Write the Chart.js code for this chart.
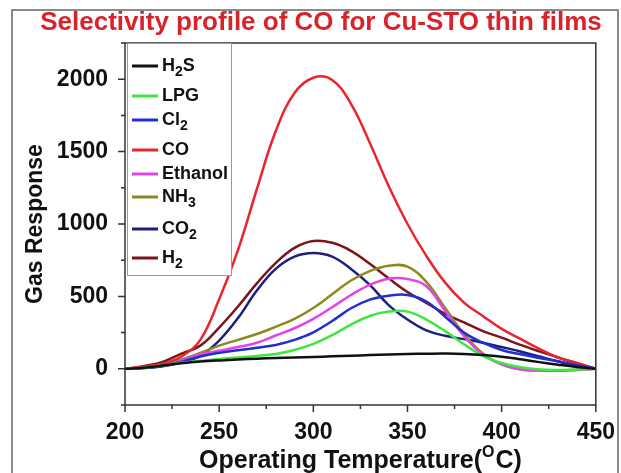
<!DOCTYPE html>
<html>
<head>
<meta charset="utf-8">
<script src="https://cdn.jsdelivr.net/npm/chart.js@4.4.1/dist/chart.umd.min.js"></script>
<style>
  html, body { margin: 0; padding: 0; background: #fff; }
  canvas { display: block; }
</style>
</head>
<body>
<canvas id="myChart" width="621" height="473"></canvas>
<script>
// data
const temps = [200, 210, 220, 230, 240, 250, 260, 270, 280, 290, 300, 310, 320, 330, 340, 350, 360, 370, 380, 390, 400, 410, 420, 430, 440, 450];

const h2s     = [0, 8, 22, 38, 50, 58, 64, 70, 74, 78, 82, 86, 90, 95, 99, 102, 104, 105, 103, 96, 84, 66, 46, 28, 12, 0];
const lpg     = [0, 8, 22, 42, 55, 68, 78, 88, 102, 130, 172, 232, 305, 365, 395, 395, 340, 260, 170, 90, 40, 10, -5, -8, -5, 0];
const cl2     = [0, 6, 20, 48, 85, 110, 128, 145, 165, 200, 252, 330, 418, 478, 505, 510, 465, 360, 250, 180, 130, 100, 75, 52, 25, 0];
const co      = [0, 12, 35, 85, 200, 480, 820, 1240, 1640, 1905, 2010, 1995, 1830, 1560, 1262, 1000, 780, 595, 457, 365, 276, 207, 138, 78, 40, 0];
const ethanol = [0, 10, 28, 58, 100, 125, 150, 180, 230, 280, 345, 425, 510, 580, 622, 620, 570, 400, 225, 100, 30, -5, -12, -14, -8, 0];
const nh3     = [0, 12, 32, 65, 110, 160, 200, 240, 290, 345, 420, 515, 610, 675, 712, 705, 600, 420, 240, 105, 30, -3, -12, -12, -6, 0];
const co2     = [0, 5, 18, 45, 90, 195, 350, 540, 690, 775, 800, 775, 690, 580, 440, 340, 265, 228, 205, 180, 150, 120, 85, 50, 20, 0];
const h2      = [0, 18, 48, 105, 160, 285, 430, 590, 730, 835, 882, 870, 815, 725, 625, 530, 455, 380, 320, 260, 215, 165, 120, 78, 38, 0];

const seriesNames = ['H2S', 'LPG', 'Cl2', 'CO', 'Ethanol', 'NH3', 'CO2', 'H2'];
const seriesData = [h2s, lpg, cl2, co, ethanol, nh3, co2, h2];
const seriesColors = ['#111111', '#3ee63e', '#1f2fd0', '#e8262c', '#e444e4', '#8c8a1e', '#1b1f80', '#7a1518'];

const yTicks = { min: -250, max: 2250, step: 250 };
const xTicks = { min: 200, max: 450, step: 25 };

const FONT = '"Liberation Sans", Arial, sans-serif';
Chart.defaults.font.family = FONT;

// text with digits drawn as subscripts (H2S, CO2 ...)
function drawSubText(ctx, text, x, y, size) {
    for (const ch of text) {
        if (/[0-9]/.test(ch)) {
            ctx.font = 'bold ' + Math.round(size * 0.75) + 'px ' + FONT;
            ctx.fillText(ch, x, y + size * 0.32);
        } else {
            ctx.font = 'bold ' + size + 'px ' + FONT;
            ctx.fillText(ch, x, y);
        }
        x += ctx.measureText(ch).width;
    }
}

const decor = {
    id: 'decor',
    beforeDraw(chart) {
        const ctx = chart.ctx;
        ctx.save();
        ctx.fillStyle = '#fff';
        ctx.fillRect(0, 0, chart.width, chart.height);
        // outer frame
        ctx.strokeStyle = '#666';
        ctx.lineWidth = 1.5;
        ctx.strokeRect(12, 10, 606, 480);
        ctx.restore();
    },
    afterDraw(chart) {
        const ctx = chart.ctx;
        const a = chart.chartArea;
        const xs = chart.scales.x, ys = chart.scales.y;
        ctx.save();

        // plot box
        ctx.strokeStyle = '#333';
        ctx.lineWidth = 1.5;
        ctx.strokeRect(a.left, a.top, a.right - a.left, a.bottom - a.top);

        // ticks
        ctx.beginPath();
        ys.ticks.forEach(t => {
            const p = ys.getPixelForValue(t.value);
            const len = (t.value % 500 === 0) ? 7 : 4;
            ctx.moveTo(a.left - len, p);
            ctx.lineTo(a.left, p);
        });
        xs.ticks.forEach(t => {
            const p = xs.getPixelForValue(t.value);
            const len = (t.value % 50 === 0) ? 7 : 4;
            ctx.moveTo(p, a.bottom);
            ctx.lineTo(p, a.bottom + len);
        });
        ctx.stroke();

        // title
        ctx.fillStyle = '#d9232b';
        ctx.font = 'bold 26px ' + FONT;
        ctx.textAlign = 'center';
        ctx.textBaseline = 'middle';
        ctx.fillText('Selectivity profile of CO for Cu-STO thin films', 321, 23);

        // y axis title
        ctx.fillStyle = '#111';
        ctx.font = 'bold 23px ' + FONT;
        ctx.save();
        ctx.translate(36, (a.top + a.bottom) / 2);
        ctx.rotate(-Math.PI / 2);
        ctx.fillText('Gas Response', 0, 0);
        ctx.restore();

        // x axis title with superscript O
        const p1 = 'Operating Temperature(', sup = 'O', p2 = 'C)';
        ctx.textAlign = 'left';
        ctx.font = 'bold 25px ' + FONT;
        const w1 = ctx.measureText(p1).width, w3 = ctx.measureText(p2).width;
        ctx.font = 'bold 16px ' + FONT;
        const w2 = ctx.measureText(sup).width + 1;
        let x0 = (a.left + a.right) / 2 - (w1 + w2 + w3) / 2;
        const ty = 461;
        ctx.font = 'bold 25px ' + FONT;
        ctx.fillText(p1, x0, ty);
        ctx.font = 'bold 16px ' + FONT;
        ctx.fillText(sup, x0 + w1, ty - 8);
        ctx.font = 'bold 25px ' + FONT;
        ctx.fillText(p2, x0 + w1 + w2, ty);

        // legend
        const rows = [66, 96, 120, 150, 174, 197, 229, 258];
        ctx.fillStyle = '#fff';
        ctx.fillRect(127, 43, 104, 232);
        ctx.strokeStyle = '#999';
        ctx.lineWidth = 1;
        ctx.strokeRect(127.5, 43.5, 104, 232);
        chart.data.datasets.forEach((ds, i) => {
            const y = rows[i];
            ctx.strokeStyle = ds.borderColor;
            ctx.lineWidth = 3;
            ctx.beginPath();
            ctx.moveTo(132, y);
            ctx.lineTo(158, y);
            ctx.stroke();
            ctx.fillStyle = '#111';
            ctx.textBaseline = 'middle';
            drawSubText(ctx, ds.label, 162, y, 18);
        });
        ctx.restore();
    }
};

const ctx = document.getElementById('myChart').getContext('2d');
const chart = new Chart(ctx, {
    type: 'line',
    data: {
        datasets: seriesNames.map((name, i) => ({
            label: name,
            data: temps.map((t, j) => ({ x: t, y: seriesData[i][j] })),
            borderColor: seriesColors[i],
            borderWidth: 2.5,
            pointRadius: 0,
            tension: 0.4,
            fill: false
        }))
    },
    options: {
        responsive: false,
        animation: false,
        devicePixelRatio: 1,
        layout: { padding: { top: 43, right: 23, left: 0, bottom: 0 } },
        plugins: {
            legend: { display: false },
            title: { display: false },
            tooltip: { enabled: false }
        },
        scales: {
            x: {
                type: 'linear',
                min: xTicks.min,
                max: xTicks.max,
                grid: { display: false },
                border: { display: false },
                ticks: {
                    stepSize: xTicks.step,
                    autoSkip: false,
                    maxRotation: 0,
                    padding: 6,
                    color: '#111',
                    font: { size: 23, weight: 'bold' },
                    callback: v => (v % 50 === 0 ? v : '')
                },
                afterFit: s => { s.height = 68; }
            },
            y: {
                min: yTicks.min,
                max: yTicks.max,
                grid: { display: false },
                border: { display: false },
                ticks: {
                    stepSize: yTicks.step,
                    autoSkip: false,
                    padding: 9,
                    color: '#111',
                    font: { size: 23, weight: 'bold' },
                    callback: v => (v % 500 === 0 && v >= 0 ? v : '')
                },
                afterFit: s => { s.width = 125; }
            }
        }
    },
    plugins: [decor]
});
</script>
</body>
</html>
